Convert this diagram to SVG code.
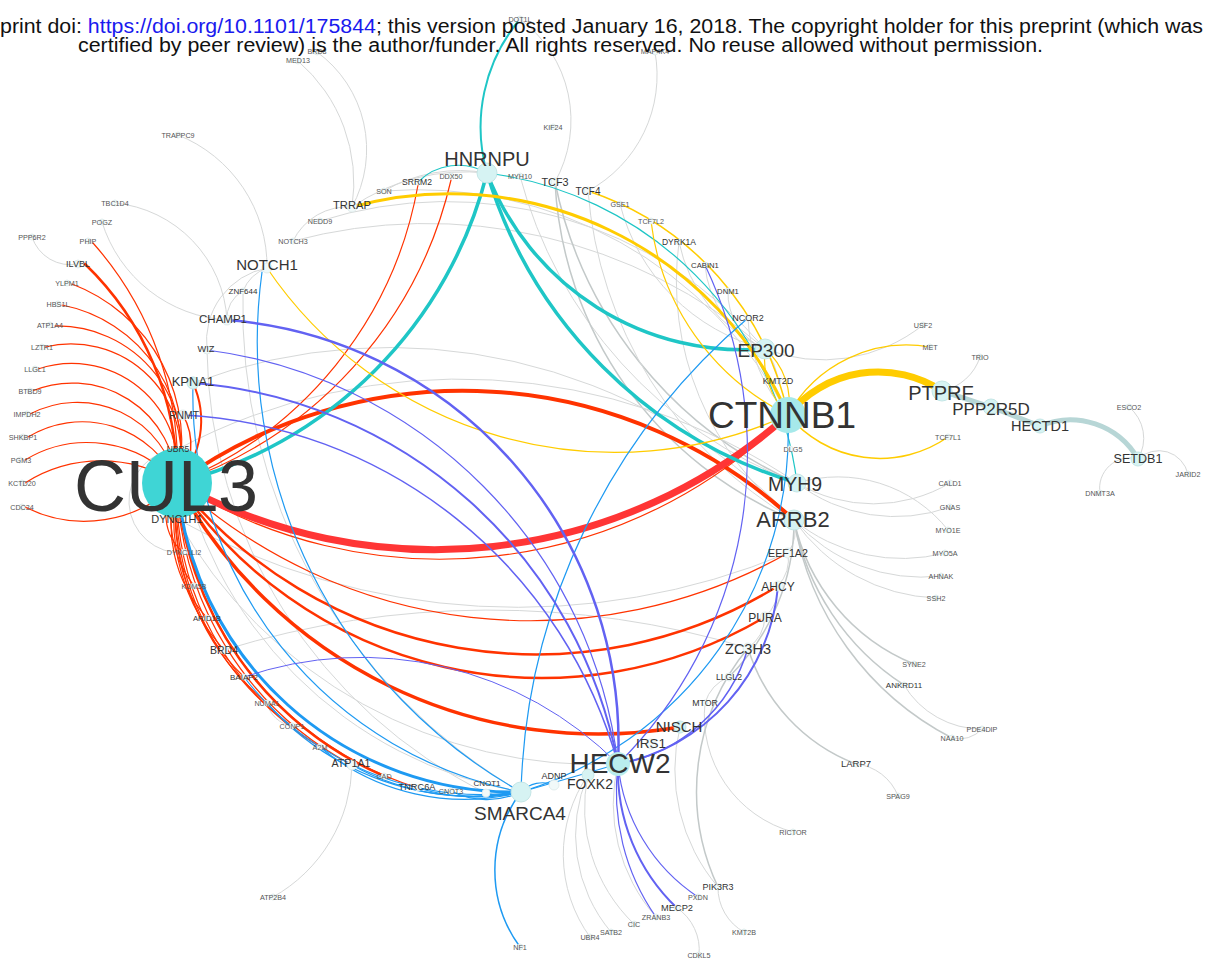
<svg xmlns="http://www.w3.org/2000/svg" width="1206" height="963" viewBox="0 0 1206 963">
<style>
.e path{fill:none;stroke-linecap:round}
.g{stroke:#d6d8d8;stroke-width:1}
.gd{stroke:#c3c9c9;stroke-width:1.5}
.r{stroke:#ff3300;stroke-width:1.2}
.c{stroke:#1fc6c6}
.y{stroke:#ffcc00}
.b{stroke:#1e9af2;stroke-width:1.2}
.p{stroke:#6262f2}
.t{stroke:#b7d6d6;stroke-width:5}
text{font-family:"Liberation Sans",Arial,sans-serif;text-anchor:middle;fill:#333}
.s{font-size:7.2px;fill:#555}
.n{fill:#d6f3f3;stroke:#c4e6e6;stroke-width:1}
.ns{fill:#f1f9f9;stroke:#dbe8e8;stroke-width:0.8}
.h{text-anchor:start;fill:#111;font-size:20px}
</style>
<rect width="1206" height="963" fill="#fff"/>
<g id="edges" class="e">
<!-- gray -->
<path class="g" d="M298 61A160 160 0 0 1 352 207"/>
<path class="g" d="M317 52A120 120 0 0 1 352 207"/>
<path class="g" d="M520 19A126 126 0 0 1 555 182"/>
<path class="g" d="M655 52A131 131 0 0 1 588 191"/>
<path class="g" d="M178 135A141 141 0 0 1 267 268"/>
<path class="g" d="M115 203A124 124 0 0 1 227 320"/>
<path class="g" d="M102 222A139 139 0 0 0 227 320"/>
<path class="g" d="M32 237A40 40 0 0 0 78 264"/>
<path class="g" d="M267 268A74 74 0 0 0 207 350"/>
<path class="g" d="M267 268A40 40 0 0 0 243 291"/>
<path class="g" d="M243 291A30 30 0 0 0 227 320"/>
<path class="g" d="M384 191A150 150 0 0 1 487 173"/>
<path class="g" d="M352 207A200 200 0 0 1 487 173"/>
<path class="g" d="M320 221A418 418 0 0 1 765 349"/>
<path class="g" d="M293 241A518 518 0 0 1 765 349"/>
<path class="g" d="M384 191A417 417 0 0 1 788 415"/>
<path class="g" d="M352 207A60 60 0 0 0 293 241"/>
<path class="g" d="M520 176A451 451 0 0 0 797 483"/>
<path class="gd" d="M555 182A387 387 0 0 0 794 520"/>
<path class="gd" d="M555 182A420 420 0 0 0 797 483"/>
<path class="g" d="M588 191A420 420 0 0 0 794 520"/>
<path class="g" d="M620 204A200 200 0 0 0 765 349"/>
<path class="g" d="M679 242A150 150 0 0 0 765 349"/>
<path class="g" d="M679 242A300 300 0 0 0 794 520"/>
<path class="g" d="M705 265A100 100 0 0 0 765 349"/>
<path class="g" d="M728 291A60 60 0 0 0 765 349"/>
<path class="g" d="M748 318A150 150 0 0 0 788 415"/>
<path class="g" d="M765 349A160 160 0 0 0 923 325"/>
<path class="g" d="M942 391A50 50 0 0 0 980 357"/>
<path class="g" d="M1138 459A40 40 0 0 0 1129 407"/>
<path class="g" d="M1138 459A30 30 0 0 1 1188 474"/>
<path class="g" d="M1138 459A30 30 0 0 0 1100 493"/>
<path class="g" d="M797 483A150 150 0 0 0 950 483"/>
<path class="g" d="M797 483A160 160 0 0 0 950 507"/>
<path class="g" d="M797 483A140 140 0 0 1 948 530"/>
<path class="g" d="M794 520A170 170 0 0 0 945 553"/>
<path class="g" d="M794 520A170 170 0 0 0 941 576"/>
<path class="g" d="M794 520A180 180 0 0 0 936 598"/>
<path class="gd" d="M794 520A200 200 0 0 0 914 664"/>
<path class="gd" d="M794 520A250 250 0 0 0 904 685"/>
<path class="gd" d="M794 520A300 300 0 0 0 952 738"/>
<path class="g" d="M904 685A90 90 0 0 0 982 729"/>
<path class="g" d="M952 738A30 30 0 0 0 982 729"/>
<path class="gd" d="M748 648A180 180 0 0 0 856 764"/>
<path class="g" d="M856 764A50 50 0 0 1 898 796"/>
<path class="g" d="M705 703A120 120 0 0 0 793 832"/>
<path class="g" d="M729 677A40 40 0 0 0 705 703"/>
<path class="gd" d="M748 648A225 225 0 0 0 718 887"/>
<path class="g" d="M680 727A180 180 0 0 0 718 887"/>
<path class="g" d="M718 887A50 50 0 0 0 744 932"/>
<path class="g" d="M677 908A50 50 0 0 1 699 955"/>
<path class="g" d="M588 775A140 140 0 0 0 590 937"/>
<path class="g" d="M588 775A150 150 0 0 0 611 932"/>
<path class="g" d="M588 775A160 160 0 0 0 634 924"/>
<path class="g" d="M618 764A170 170 0 0 0 656 917"/>
<path class="g" d="M352 765A154 154 0 0 1 273 897"/>
<path class="g" d="M794 520A40 40 0 0 1 788 553"/>
<path class="g" d="M788 553A40 40 0 0 1 778 586"/>
<path class="g" d="M778 586A40 40 0 0 1 765 617"/>
<path class="g" d="M765 617A40 40 0 0 1 748 648"/>
<path class="gd" d="M794 520A220 220 0 0 1 729 677"/>
<path class="g" d="M178 449A600 600 0 0 1 797 483"/>
<path class="g" d="M193 383A560 560 0 0 1 794 520"/>
<path class="g" d="M224 650A900 900 0 0 1 748 648"/>
<path class="g" d="M177 519A700 700 0 0 0 788 553"/>
<path class="g" d="M178 449A420 420 0 0 0 521 792"/>
<path class="g" d="M177 519A480 480 0 0 0 618 764"/>
<path class="g" d="M243 291A560 560 0 0 0 521 792"/>
<path class="g" d="M207 350A500 500 0 0 0 486 793"/>
<path class="g" d="M178 449A40 40 0 0 0 184 553"/>
<path class="g" d="M267 703A30 30 0 0 0 292 726"/>
<path class="g" d="M765 349A60 60 0 0 1 778 381"/>
<!-- pale teal chain -->
<path class="t" d="M942 391L991 407L1040 426"/>
<path class="t" d="M1040 426A78 78 0 0 1 1138 459"/>
<!-- red -->
<path class="r" d="M93 243A335 335 0 0 1 177 483"/>
<path class="r" style="stroke-width:2.5" d="M85 264A300 300 0 0 1 177 483"/>
<path class="r" d="M72 284A170 170 0 0 1 177 483"/>
<path class="r" d="M62 305A147 147 0 0 1 177 483"/>
<path class="r" d="M55 326A124 124 0 0 1 177 483"/>
<path class="r" d="M45 347A110 110 0 0 1 177 483"/>
<path class="r" d="M38 369A106 106 0 0 1 177 483"/>
<path class="r" d="M32 391A105 105 0 0 1 177 483"/>
<path class="r" d="M30 414A102 102 0 0 1 177 483"/>
<path class="r" d="M28 437A104 104 0 0 1 177 483"/>
<path class="r" d="M25 460A120 120 0 0 1 177 483"/>
<path class="r" d="M25 483A142 142 0 0 1 177 483"/>
<path class="r" d="M25 507A131 131 0 0 0 177 483"/>
<path class="r" d="M418 185A397 397 0 0 1 177 483"/>
<path class="r" d="M451 180A420 420 0 0 1 177 483"/>
<path class="r" style="stroke-width:2" d="M177 483A92 92 0 0 0 193 383"/>
<path class="r" style="stroke-width:1.5" d="M177 483A60 60 0 0 0 183 415"/>
<path class="r" d="M177 483A50 50 0 0 0 184 553"/>
<path class="r" d="M177 483A110 110 0 0 0 194 586"/>
<path class="r" d="M177 483A141 141 0 0 0 207 618"/>
<path class="r" d="M177 483A197 197 0 0 0 224 650"/>
<path class="r" d="M177 483A230 230 0 0 0 244 677"/>
<path class="r" d="M177 483A251 251 0 0 0 267 703"/>
<path class="r" d="M177 483A274 274 0 0 0 292 726"/>
<path class="r" d="M177 483A298 298 0 0 0 320 747"/>
<path class="r" d="M177 483A329 329 0 0 0 352 765"/>
<path class="r" style="stroke-width:2.5" d="M177 483A344 344 0 0 0 384 776"/>
<path class="r" d="M177 483A345 345 0 0 0 418 788"/>
<path class="r" d="M177 483A523 523 0 0 0 788 553"/>
<path class="r" style="stroke-width:2.5" d="M177 483A462 462 0 0 0 778 586"/>
<path class="r" style="stroke-width:2.5" d="M177 483A439 439 0 0 0 765 617"/>
<path class="r" style="stroke-width:3.5" d="M177 483A479 479 0 0 0 680 727"/>
<path class="r" d="M177 483A492 492 0 0 0 788 415"/>
<path class="r" style="stroke-width:4" d="M177 483A489 489 0 0 1 794 520"/>
<path style="stroke:#ff3535;stroke-width:7" d="M177 483A531 531 0 0 0 788 415"/>
<!-- cyan -->
<path class="c" style="stroke-width:3.5" d="M487 173A428 428 0 0 1 177 483"/>
<path class="c" style="stroke-width:3.5" d="M487 173A275 275 0 0 0 765 349"/>
<path class="c" style="stroke-width:3.5" d="M487 173A463 463 0 0 0 797 483"/>
<path class="c" style="stroke-width:1.2" d="M487 173A357 357 0 0 1 797 483"/>
<path class="c" style="stroke-width:1.2" d="M418 182A57 57 0 0 1 487 173"/>
<path class="c" style="stroke-width:2" d="M487 173A168 168 0 0 1 520 19"/>
<!-- gold -->
<path class="y" style="stroke-width:7" d="M788 415A116 116 0 0 1 942 391"/>
<path class="y" style="stroke-width:1.2" d="M788 415A136 136 0 0 1 930 347"/>
<path class="y" style="stroke-width:1.5" d="M788 415A119 119 0 0 0 948 437"/>
<path class="y" style="stroke-width:3" d="M352 207A369 369 0 0 1 788 415"/>
<path class="y" style="stroke-width:1.5" d="M588 191A301 301 0 0 1 788 415"/>
<path class="y" style="stroke-width:1.2" d="M651 221A249 249 0 0 0 788 415"/>
<path class="y" style="stroke-width:1.2" d="M267 268A420 420 0 0 0 788 415"/>
<path class="y" style="stroke-width:1.2" d="M765 349A70 70 0 0 1 788 415"/>
<path class="y" style="stroke-width:1.2" d="M765 349A80 80 0 0 0 788 415"/>
<!-- blue -->
<path class="b" style="stroke-width:3" d="M177 483A339 339 0 0 0 521 792"/>
<path class="b" d="M193 383A405 405 0 0 0 521 792"/>
<path class="b" d="M262 272A516 516 0 0 0 521 792"/>
<path class="b" d="M521 792A646 646 0 0 1 748 318"/>
<path class="b" d="M788 415A377 377 0 0 1 521 792"/>
<path class="b" style="stroke-width:1.5" d="M521 792A130 130 0 0 0 520 947"/>
<path class="b" d="M521 792A30 30 0 0 1 554 785"/>
<path class="b" d="M521 792L618 764"/>
<path class="b" d="M521 792A60 60 0 0 1 486 793"/>
<path class="b" d="M521 792A80 80 0 0 1 451 791"/>
<path class="b" d="M521 792A200 200 0 0 1 418 788"/>
<path class="b" d="M521 792A250 250 0 0 1 352 765"/>
<path class="b" d="M521 792A225 225 0 0 1 320 747"/>
<path class="b" d="M521 792A276 276 0 0 1 267 703"/>
<path class="b" d="M521 792A301 301 0 0 1 244 677"/>
<!-- purple -->
<path class="p" style="stroke-width:2.5" d="M227 320A424 424 0 0 1 618 764"/>
<path class="p" style="stroke-width:1.2" d="M207 350A475 475 0 0 1 618 764"/>
<path class="p" style="stroke-width:2" d="M193 383A470 470 0 0 1 618 764"/>
<path class="p" style="stroke-width:1.5" d="M183 415A476 476 0 0 1 618 764"/>
<path class="p" style="stroke-width:1.2" d="M705 265A438 438 0 0 1 618 764"/>
<path class="p" style="stroke-width:2" d="M778 586A198 198 0 0 1 618 764"/>
<path class="p" style="stroke-width:1.5" d="M748 648A164 164 0 0 1 618 764"/>
<path class="p" style="stroke-width:1" d="M244 677A361 361 0 0 1 618 764"/>
<path class="p" style="stroke-width:2" d="M618 764A190 190 0 0 0 677 908"/>
<path class="p" style="stroke-width:1.2" d="M618 764A220 220 0 0 0 656 917"/>
<path class="p" style="stroke-width:1.2" d="M618 764A180 180 0 0 0 698 897"/>
</g>
<g id="nodes">
<g id="n-CUL3"><circle cx="177" cy="483" r="35" fill="#3fd5d5"/><text x="166" y="511" font-size="72" fill="#222">CUL3</text></g>
<g id="n-CTNNB1"><circle cx="788" cy="415" r="18" fill="#a6e9ea"/><text x="782" y="428" font-size="37">CTNNB1</text></g>
<g id="n-HECW2"><circle cx="618" cy="764" r="12" fill="#b9eded"/><text x="620" y="773" font-size="28">HECW2</text></g>
<g id="n-HNRNPU"><circle class="n" cx="487" cy="173" r="10"/><text x="487" y="166" font-size="20">HNRNPU</text></g>
<g id="n-SMARCA4"><circle class="n" cx="521" cy="792" r="10"/><text x="520" y="820" font-size="19">SMARCA4</text></g>
<g id="n-EP300"><circle class="n" cx="765" cy="349" r="10"/><text x="766" y="357" font-size="19">EP300</text></g>
<g id="n-PTPRF"><circle class="n" cx="942" cy="391" r="10"/><text x="941" y="400" font-size="20">PTPRF</text></g>
<g id="n-PPP2R5D"><circle class="n" cx="991" cy="407" r="8"/><text x="991" y="415" font-size="17">PPP2R5D</text></g>
<g id="n-HECTD1"><circle class="n" cx="1040" cy="426" r="7"/><text x="1040" y="431" font-size="14.5">HECTD1</text></g>
<g id="n-SETDB1"><circle class="n" cx="1138" cy="459" r="7"/><text x="1138" y="463" font-size="12.6">SETDB1</text></g>
<g id="n-MYH9"><circle class="n" cx="797" cy="483" r="9"/><text x="795" y="491" font-size="19.5">MYH9</text></g>
<g id="n-ARRB2"><circle class="n" cx="794" cy="520" r="10"/><text x="793" y="527" font-size="22">ARRB2</text></g>
<g id="n-NOTCH1"><circle class="ns" cx="267" cy="268" r="5"/><text x="267" y="270" font-size="15">NOTCH1</text></g>
<g id="n-TRRAP"><circle class="ns" cx="352" cy="207" r="5"/><text x="352" y="209" font-size="11.2">TRRAP</text></g>
<g id="n-TCF3"><circle class="ns" cx="555" cy="182" r="4"/><text x="555" y="186" font-size="10.8">TCF3</text></g>
<g id="n-TCF4"><circle class="ns" cx="588" cy="191" r="4"/><text x="588" y="195" font-size="10">TCF4</text></g>
<g id="n-KPNA1"><circle class="n" cx="193" cy="383" r="6"/><text x="193" y="386" font-size="13">KPNA1</text></g>
<g id="n-RNMT"><circle class="ns" cx="183" cy="415" r="5"/><text x="184" y="419" font-size="10.4">RNMT</text></g>
<g id="n-CHAMP1"><circle class="ns" cx="227" cy="320" r="5"/><text x="223" y="323" font-size="11.5">CHAMP1</text></g>
<g id="n-WIZ"><circle class="ns" cx="207" cy="350" r="4"/><text x="206" y="352" font-size="9.3">WIZ</text></g>
<g id="n-ZNF644"><circle class="ns" cx="243" cy="291" r="3"/><text x="243" y="293.5" font-size="8">ZNF644</text></g>
<g id="n-EEF1A2"><circle class="ns" cx="788" cy="553" r="5"/><text x="788" y="557" font-size="10.7">EEF1A2</text></g>
<g id="n-AHCY"><circle class="ns" cx="778" cy="586" r="5"/><text x="778" y="591" font-size="12">AHCY</text></g>
<g id="n-PURA"><circle class="ns" cx="765" cy="617" r="5"/><text x="765" y="622" font-size="12">PURA</text></g>
<g id="n-ZC3H3"><circle class="ns" cx="748" cy="648" r="5"/><text x="748" y="654" font-size="14.5">ZC3H3</text></g>
<g id="n-LLGL2"><circle class="ns" cx="729" cy="677" r="4"/><text x="729" y="680" font-size="8.7">LLGL2</text></g>
<g id="n-MTOR"><circle class="ns" cx="705" cy="703" r="3"/><text x="705" y="706" font-size="8.8">MTOR</text></g>
<g id="n-NISCH"><circle class="n" cx="680" cy="727" r="6"/><text x="679" y="732" font-size="15">NISCH</text></g>
<g id="n-IRS1"><circle class="ns" cx="651" cy="744" r="5"/><text x="651" y="748" font-size="13.5">IRS1</text></g>
<g id="n-FOXK2"><circle class="n" cx="588" cy="775" r="6"/><text x="590" y="789" font-size="14">FOXK2</text></g>
<g id="n-ADNP"><circle class="ns" cx="554" cy="785" r="5"/><text x="554" y="779" font-size="9">ADNP</text></g>
<g id="n-ATP1A1"><circle class="ns" cx="352" cy="765" r="5"/><text x="351" y="767" font-size="10.7">ATP1A1</text></g>
<g id="n-TNRC6A"><circle class="ns" cx="418" cy="788" r="3"/><text x="417" y="790" font-size="9.2">TNRC6A</text></g>
<g id="n-CNOT1"><circle class="ns" cx="486" cy="793" r="4"/><text x="487" y="786" font-size="8">CNOT1</text></g>
<g id="n-CNOT3"><circle class="ns" cx="451" cy="791" r="3"/><text class="s" x="451" y="794">CNOT3</text></g>
<g id="n-CAD"><circle class="ns" cx="384" cy="776" r="3"/><text class="s" x="384" y="779">CAD</text></g>
<g id="n-A2M"><circle class="ns" cx="320" cy="747" r="3"/><text class="s" x="320" y="750">A2M</text></g>
<g id="n-CONP1"><circle class="ns" cx="292" cy="726" r="3"/><text class="s" x="292" y="729">CONP1</text></g>
<g id="n-NUMA1"><circle class="ns" cx="267" cy="703" r="3"/><text class="s" x="267" y="706">NUMA1</text></g>
<g id="n-BAIAP2"><circle class="ns" cx="244" cy="677" r="3"/><text x="244" y="680" font-size="8" fill="#555">BAIAP2</text></g>
<g id="n-BRD4"><circle class="ns" cx="224" cy="650" r="4"/><text x="224" y="654" font-size="10.5">BRD4</text></g>
<g id="n-ARID1B"><circle class="ns" cx="207" cy="618" r="3"/><text x="207" y="621" font-size="7.8" fill="#555">ARID1B</text></g>
<g id="n-KDM5B"><circle class="ns" cx="194" cy="586" r="3"/><text class="s" x="194" y="589">KDM5B</text></g>
<g id="n-DYNC1LI2"><circle class="ns" cx="184" cy="552" r="3"/><text class="s" x="184" y="555">DYNC1LI2</text></g>
<g id="n-DYNC1H1"><text x="177" y="523" font-size="11">DYNC1H1</text></g>
<g id="n-UBR5"><text x="178" y="452" font-size="8.5" fill="#555">UBR5</text></g>
<g id="n-TRAPPC9"><circle class="ns" cx="178" cy="135" r="3"/><text class="s" x="178" y="138">TRAPPC9</text></g>
<g id="n-TBC1D4"><circle class="ns" cx="115" cy="203" r="3"/><text class="s" x="115" y="206">TBC1D4</text></g>
<g id="n-POGZ"><circle class="ns" cx="102" cy="222" r="3"/><text class="s" x="102" y="225">POGZ</text></g>
<g id="n-PPP6R2"><circle class="ns" cx="32" cy="237" r="3"/><text class="s" x="32" y="240">PPP6R2</text></g>
<g id="n-PHIP"><circle class="ns" cx="88" cy="241" r="3"/><text class="s" x="88" y="244">PHIP</text></g>
<g id="n-ILVBL"><circle class="ns" cx="78" cy="264" r="4"/><text x="78" y="267" font-size="9">ILVBL</text></g>
<g id="n-YLPM1"><circle class="ns" cx="67" cy="283" r="3"/><text class="s" x="67" y="286">YLPM1</text></g>
<g id="n-HBS1L"><circle class="ns" cx="58" cy="304" r="3"/><text class="s" x="58" y="307">HBS1L</text></g>
<g id="n-ATP1A4"><circle class="ns" cx="50" cy="325" r="3"/><text class="s" x="50" y="328">ATP1A4</text></g>
<g id="n-LZTR1"><circle class="ns" cx="42" cy="347" r="3"/><text class="s" x="42" y="350">LZTR1</text></g>
<g id="n-LLGL1"><circle class="ns" cx="35" cy="369" r="3"/><text class="s" x="35" y="372">LLGL1</text></g>
<g id="n-BTBD9"><circle class="ns" cx="30" cy="391" r="3"/><text class="s" x="30" y="394">BTBD9</text></g>
<g id="n-IMPDH2"><circle class="ns" cx="27" cy="414" r="3"/><text class="s" x="27" y="417">IMPDH2</text></g>
<g id="n-SHKBP1"><circle class="ns" cx="23" cy="437" r="3"/><text class="s" x="23" y="440">SHKBP1</text></g>
<g id="n-PGM3"><circle class="ns" cx="20" cy="460" r="3"/><text class="s" x="21" y="463">PGM3</text></g>
<g id="n-KCTD20"><circle class="ns" cx="22" cy="483" r="3"/><text class="s" x="22" y="486">KCTD20</text></g>
<g id="n-CDC34"><circle class="ns" cx="22" cy="507" r="3"/><text class="s" x="22" y="510">CDC34</text></g>
<g id="n-MED13"><circle class="ns" cx="298" cy="61" r="3"/><text class="s" x="298" y="63">MED13</text></g>
<g id="n-BRD8"><circle class="ns" cx="317" cy="52" r="3"/><text class="s" x="317" y="54">BRD8</text></g>
<g id="n-DOT1L"><circle class="ns" cx="520" cy="19" r="3"/><text class="s" x="520" y="22">DOT1L</text></g>
<g id="n-MAP4K4"><circle class="ns" cx="655" cy="52" r="3"/><text class="s" x="655" y="54">MAP4K4</text></g>
<g id="n-KIF24"><circle class="ns" cx="553" cy="127" r="3"/><text class="s" x="553" y="130">KIF24</text></g>
<g id="n-DDX50"><circle class="ns" cx="451" cy="176" r="3"/><text class="s" x="451" y="179">DDX50</text></g>
<g id="n-SRRM2"><circle class="ns" cx="418" cy="182" r="3"/><text x="417" y="185" font-size="8.6">SRRM2</text></g>
<g id="n-SON"><circle class="ns" cx="384" cy="191" r="3"/><text class="s" x="384" y="194">SON</text></g>
<g id="n-NEDD9"><circle class="ns" cx="320" cy="221" r="3"/><text class="s" x="320" y="224">NEDD9</text></g>
<g id="n-NOTCH3"><circle class="ns" cx="293" cy="241" r="3"/><text class="s" x="293" y="244">NOTCH3</text></g>
<g id="n-MYH10"><circle class="ns" cx="520" cy="176" r="3"/><text class="s" x="520" y="179">MYH10</text></g>
<g id="n-GSE1"><circle class="ns" cx="620" cy="204" r="3"/><text class="s" x="620" y="207">GSE1</text></g>
<g id="n-TCF7L2"><circle class="ns" cx="651" cy="221" r="3"/><text class="s" x="651" y="224">TCF7L2</text></g>
<g id="n-DYRK1A"><circle class="ns" cx="679" cy="242" r="3"/><text x="679" y="245" font-size="8.5" fill="#444">DYRK1A</text></g>
<g id="n-CABIN1"><circle class="ns" cx="705" cy="265" r="3"/><text x="705" y="268" font-size="7.7" fill="#555">CABIN1</text></g>
<g id="n-DNM1"><circle class="ns" cx="728" cy="291" r="3"/><text x="728" y="294" font-size="7.7" fill="#555">DNM1</text></g>
<g id="n-NCOR2"><circle class="ns" cx="748" cy="318" r="3"/><text x="748" y="321" font-size="9" fill="#444">NCOR2</text></g>
<g id="n-KMT2D"><circle class="ns" cx="778" cy="381" r="3"/><text x="778" y="384" font-size="9" fill="#444">KMT2D</text></g>
<g id="n-DLG5"><circle class="ns" cx="790" cy="449" r="3"/><text class="s" x="793" y="452">DLG5</text></g>
<g id="n-USF2"><circle class="ns" cx="923" cy="325" r="3"/><text class="s" x="923" y="328">USF2</text></g>
<g id="n-MET"><circle class="ns" cx="930" cy="347" r="3"/><text class="s" x="930" y="350">MET</text></g>
<g id="n-TRIO"><circle class="ns" cx="980" cy="357" r="3"/><text class="s" x="980" y="360">TRIO</text></g>
<g id="n-TCF7L1"><circle class="ns" cx="948" cy="437" r="3"/><text class="s" x="948" y="440">TCF7L1</text></g>
<g id="n-ESCO2"><circle class="ns" cx="1129" cy="407" r="3"/><text class="s" x="1129" y="410">ESCO2</text></g>
<g id="n-JARID2"><circle class="ns" cx="1188" cy="474" r="3"/><text class="s" x="1188" y="477">JARID2</text></g>
<g id="n-DNMT3A"><circle class="ns" cx="1100" cy="493" r="3"/><text class="s" x="1100" y="496">DNMT3A</text></g>
<g id="n-CALD1"><circle class="ns" cx="950" cy="483" r="3"/><text class="s" x="950" y="486">CALD1</text></g>
<g id="n-GNAS"><circle class="ns" cx="950" cy="507" r="3"/><text class="s" x="950" y="510">GNAS</text></g>
<g id="n-MYO1E"><circle class="ns" cx="948" cy="530" r="3"/><text class="s" x="948" y="533">MYO1E</text></g>
<g id="n-MYO5A"><circle class="ns" cx="945" cy="553" r="3"/><text class="s" x="945" y="556">MYO5A</text></g>
<g id="n-AHNAK"><circle class="ns" cx="941" cy="576" r="3"/><text class="s" x="941" y="579">AHNAK</text></g>
<g id="n-SSH2"><circle class="ns" cx="936" cy="598" r="3"/><text class="s" x="936" y="601">SSH2</text></g>
<g id="n-SYNE2"><circle class="ns" cx="914" cy="664" r="3"/><text class="s" x="914" y="667">SYNE2</text></g>
<g id="n-ANKRD11"><circle class="ns" cx="904" cy="685" r="3"/><text x="904" y="688" font-size="8" fill="#444">ANKRD11</text></g>
<g id="n-PDE4DIP"><circle class="ns" cx="982" cy="729" r="3"/><text class="s" x="982" y="732">PDE4DIP</text></g>
<g id="n-NAA10"><circle class="ns" cx="952" cy="738" r="3"/><text class="s" x="952" y="741">NAA10</text></g>
<g id="n-LARP7"><circle class="ns" cx="856" cy="764" r="3"/><text x="856" y="767" font-size="9.5" fill="#444">LARP7</text></g>
<g id="n-SPAG9"><circle class="ns" cx="898" cy="796" r="3"/><text class="s" x="898" y="799">SPAG9</text></g>
<g id="n-RICTOR"><circle class="ns" cx="793" cy="832" r="3"/><text class="s" x="793" y="835">RICTOR</text></g>
<g id="n-PIK3R3"><circle class="ns" cx="718" cy="887" r="3"/><text x="718" y="890" font-size="9" fill="#444">PIK3R3</text></g>
<g id="n-PXDN"><circle class="ns" cx="698" cy="897" r="3"/><text class="s" x="698" y="900">PXDN</text></g>
<g id="n-MECP2"><circle class="ns" cx="677" cy="908" r="3"/><text x="677" y="911" font-size="9.3" fill="#444">MECP2</text></g>
<g id="n-ZRANB3"><circle class="ns" cx="656" cy="917" r="3"/><text class="s" x="656" y="920">ZRANB3</text></g>
<g id="n-CIC"><circle class="ns" cx="634" cy="924" r="3"/><text class="s" x="634" y="927">CIC</text></g>
<g id="n-SATB2"><circle class="ns" cx="611" cy="932" r="3"/><text class="s" x="611" y="935">SATB2</text></g>
<g id="n-UBR4"><circle class="ns" cx="590" cy="937" r="3"/><text class="s" x="590" y="940">UBR4</text></g>
<g id="n-NF1"><circle class="ns" cx="520" cy="947" r="3"/><text class="s" x="520" y="950">NF1</text></g>
<g id="n-KMT2B"><circle class="ns" cx="744" cy="932" r="3"/><text class="s" x="744" y="935">KMT2B</text></g>
<g id="n-CDKL5"><circle class="ns" cx="699" cy="955" r="3"/><text class="s" x="699" y="958">CDKL5</text></g>
<g id="n-ATP2B4"><circle class="ns" cx="273" cy="897" r="3"/><text class="s" x="273" y="900">ATP2B4</text></g>
</g>
<g id="header">
<text class="h" x="0" y="33" textLength="1203" lengthAdjust="spacingAndGlyphs">print doi: <tspan fill="#1a1aee">https://doi.org/10.1101/175844</tspan>; this version posted January 16, 2018. The copyright holder for this preprint (which was</text>
<text class="h" x="78" y="52" textLength="965" lengthAdjust="spacingAndGlyphs">certified by peer review) is the author/funder. All rights reserved. No reuse allowed without permission.</text>
</g>
</svg>
